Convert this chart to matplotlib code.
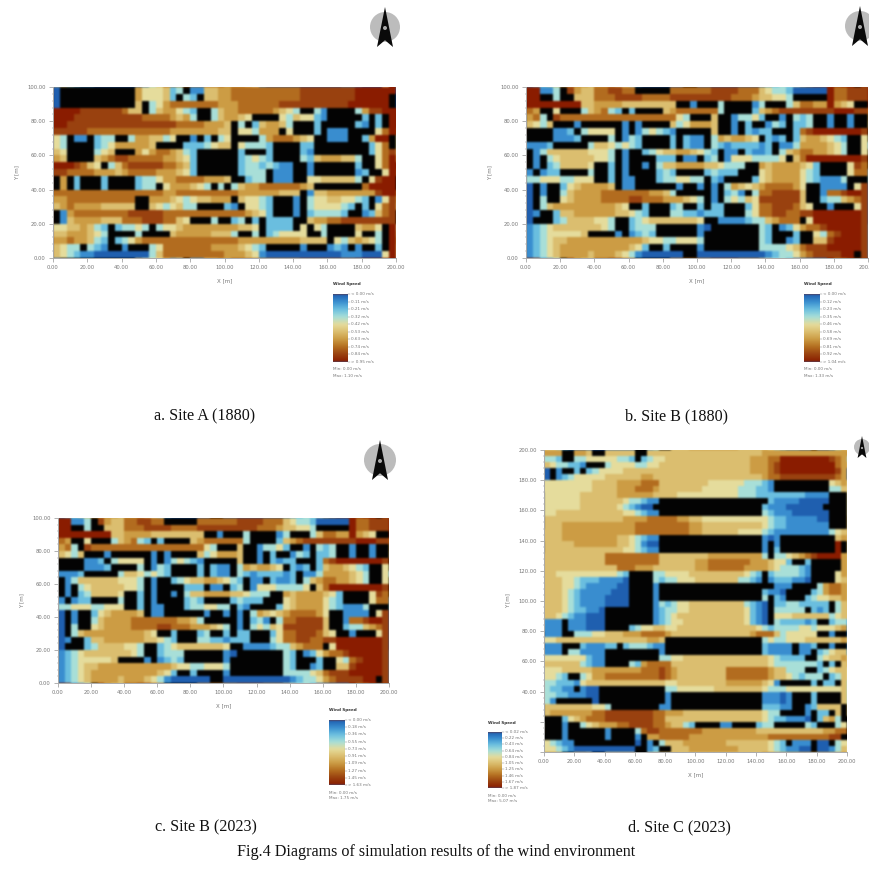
import numpy as np
import matplotlib
matplotlib.use("Agg")
import matplotlib.pyplot as plt
from matplotlib.colors import LinearSegmentedColormap
from matplotlib.patches import Circle, Polygon
from matplotlib.ticker import MultipleLocator

# cell values: 0 = slowest (blue) ... 9 = fastest (dark red), # = building (black)
site_a_1880 = [
    "0######### ##6444523# 1155667777 7777778888 8888999999",
    "0######### ##644452#3 2#55667777 7777778888 888899999#",
    "0######### ##5#346777 7777666777 7778888888 888999999#",
    "9999888888 755#356643 2##3566777 776543##31 ####368899",
    "9998888888 8887777656 3##356654# ###4354421 #####2#2#9",
    "9988888888 8888888877 776665#3#2 56653###2# ####21#2#9",
    "8888877777 7777777666 666655#443 666#4###2# 111####479",
    "43#11#233# #3665534## 1#2#34#### 36777654## 111##2699#",
    "43####2346 66665####2 223455#433 32####22## ######247#",
    "54####345# ##64677653 2######2## #2####21## ######2478",
    "65####5678 8777776654 2######234 32####3256 66553##479",
    "9998754#35 7888887765 2######233 23211##1## ####2##479",
    "8877776665 6777766654 2######233 3#111##1## ####12##49",
    "#6#2###2## ##23346677 776665##23 3#111##445 55553#4899",
    "#6#2###2## ##233#4666 543#3#3566 77777765## #####79999",
    "7777777777 7777776677 7777777666 666555#155 6666666899",
    "6677777777 77##666543 455666#544 32###1#344 554432#148",
    "5676666555 55##543453 3####21#44 32###1#344 4432#2#478",
    "#167777777 7888887777 7777777765 42###1#233 332##12578",
    "#156666555 7778887754 ###3##23#2 #2222##566 7788888888",
    "44556532#2 3343#34456 6666666554 #2222#4#43 ####5664#9",
    "55666543## ##3####566 6665553##3 #234444##3 ####4##3#9",
    "66766532#2 3467777777 7777777666 6666665555 #4356543#9",
    "5433#321## 1###347777 7776666543 2#####1### 121#1##2#9",
    "5432110000 0000357777 7777766654 1000000000 0011100049",
]

site_b_1880 = [
    "99113#8655 778877#### #777777888 8777543320 0000977888",
    "99##3##555 7778888777 7888888888 777655443# ####977888",
    "9999999955 6666555555 55##1###3# ###13###35 77669654##",
    "76##4###35 6732#2#### 567777773# ###2567888 8888899988",
    "673#877777 7777777777 7743###5## 13342##1#3 23##1##1##",
    "5435###1## ####1#1### #5346665## 1#2##132#2 23##1##1##",
    "####112#34 444#1#1343 21#####5## 1#2122###2 7899999998",
    "####1112## ##3#132### #2#211#365 6654#212#2 5665432##4",
    "1112#####3 5543432### #2#211#321 222212#113 6666543##4",
    "#135555554 443#1##234 55665432#1 1#2112#356 7766543##4",
    "#1#3455555 443#1####2 22#11#23#1 4443333 4#5 7999999998",
    "#1#2355554 ##2#1##1#3 5566665543 33##656666 542####487",
    "1#122####3 ##2#1####2 32####2322 2###456666 432####477",
    "3344433444 ##2#11###2 334433#21# ###2456666 4321113###",
    "0#1##24566 665#11#### ##1##1#1#3 6545677776 4##1111#48",
    "0#1##35666 6777777766 53#####1#2 31#3778888 5##1778998",
    "0#3##45666 6777788777 666543#1#3 4354888888 5##2335678",
    "0#35666666 66654##2## #23##2#22# ##24778887 54##1###48",
    "01##255666 66655432## #33221222# ##34778877 8899999998",
    "0###235555 443##23455 555554##11 1123356777 #499999998",
    "1234555555 543##2333# #####10### ####32#124 6778999998",
    "123444445# ###1#1232# #####1#### ####32###2 ##43789998",
    "1234556666 6666666544 334443#### ####32##12 ##55899998",
    "1234566666 6666654 2## 2####1#### ####333345 7888999998",
    "1234566665 6665431000 000##00000 0000012334 67888899#8",
]

# same pattern as site B 1880, the 2023 run only moves the scale
site_b_2023 = list(site_b_1880)

site_c_2023 = [
    "666##665## 55555##555 5555555555 5555556666 6666666666",
    "332##33444 44332#2344 5555555555 5555666779 9999999876",
    "5433221### 3444433445 5555555555 5555666789 9999999976",
    "0#1##2#234 4445555555 5555555555 5555666789 9999999986",
    "0#12344444 5555556655 5555555555 5555556778 8888888876",
    "4444444455 5566667775 5555555444 44433321## #######456",
    "4444444455 5566677765 5555554444 44333221## #######335",
    "4444445555 5566666655 5544444444 4433322222 2221111###",
    "4444445555 555433211# ########## #######211 1100000###",
    "4444445555 554321 00# ########## #######211 1000000###",
    "4455555555 555443211# ########## ######3211 1000000###",
    "5555555555 5556666777 7766554444 4444444322 1111100###",
    "5556666666 6666677777 7777665555 5555554322 1111111###",
    "5556666666 6666677777 7777665555 5544443211 1111111345",
    "5556666666 665543211# ########## ######101# ########56",
    "5555566666 665543100# ########## ######1#1# ########9#",
    "5555555555 555443211# ########## ######1#2# ########9#",
    "5555555555 7777777775 5555555666 6666663#33 4567899996",
    "5555555555 7777777775 5555566777 7777666544 2##2#####6",
    "5555555555 5577766655 5555566777 7776666543 3321#####6",
    "5544444444 4432####33 4444555555 555432#233 3321####46",
    "5554432221 1110####32 3344455555 553321#122 2110####45",
    "5554432111 1100####1# ########## ########11 1####36776",
    "5554321111 1000####1# ########## ######2110 ####236776",
    "5554321111 0000####1# ########## ######3#21 ###2344556",
    "5554321111 0000####13 2344555555 5553210#22 3322222#35",
    "5554322110 ########12 3344555555 5554210#33 333#212#35",
    "5543211000 ########12 3455555555 5554210#44 4555555345",
    "111#111000 ########12 3445555555 5554210#32 22212##233",
    "111#111000 ####234455 4455555555 5555543233 3344344456",
    "111##33344 5556667777 6555555555 5555677753 44444##1##",
    "4455555555 5555555665 ########## ######3433 4445555556",
    "111###2111 22#2333211 ########## ######2111 1#112##1##",
    "111#331111 #########1 ########## ######2111 1#11#23455",
    "4444444211 #########3 3445555555 5555555432 222##34556",
    "5555553211 ####326777 7555555555 5555555433 333332#2#5",
    "4445555566 6666667778 7655555555 7777777655 333##23455",
    "4432##3466 7777777778 7655555555 7777777655 432333#235",
    "3322214555 5555555555 4455555555 66666654 1# ####2#22#5",
    "32211#100# ########## 3344444455 5555554333 4444444445",
    "3322111 00# ########## 1######### ######1110 1###2####5",
    "31######0# ########## 1######### ######1110 1###2####5",
    "5555555544 3########1 1######### ######2221 1##1255 55#",
    "5666666677 8888888877 6665555555 555555433# ###1#22#5#",
    "###2456777 8888888877 5555555555 5555554322 1110#2563#",
    "###1##3456 6677888877 65532####1 1####233## ###32###34",
    "###1###### 1####37887 7777776666 6666655555 5555556677",
    "###1###### 1####1#667 7777666666 6666666777 777777788#",
    "43211##### #####0#1#3 5556666666 5555555432 #111#00#34",
    "4432100000 00000##12# #555666666 6655555432 1100#00135",
]

labels_a = ["< 0.00", "0.11", "0.21", "0.32", "0.42", "0.53", "0.63", "0.74", "0.84", "> 0.95"]
labels_b = ["< 0.00", "0.12", "0.23", "0.35", "0.46", "0.58", "0.69", "0.81", "0.92", "> 1.04"]
labels_b23 = ["< 0.00", "0.18", "0.36", "0.55", "0.73", "0.91", "1.09", "1.27", "1.45", "> 1.63"]
labels_c = ["< 0.02", "0.22", "0.43", "0.64", "0.84", "1.05", "1.25", "1.46", "1.67", "> 1.87"]

W, H = 870, 875
GREY = "#777777"
level_colors = ["#1f5fb0", "#3a8fd0", "#6cc0e0", "#a8dfd8", "#e6dc9c",
                "#dcbf70", "#cc9c44", "#b46e20", "#9a4210", "#8a1c00"]
cmap = LinearSegmentedColormap.from_list("wind", level_colors)
cmap.set_bad("#030303")


def soften(img, dpi):
    # the source is a low res scan, so take the hard cell edges off
    out = img.copy()
    for axis in (0, 1):
        out = (np.roll(out, 2, axis) + 4 * np.roll(out, 1, axis) + 6 * out
               + 4 * np.roll(out, -1, axis) + np.roll(out, -2, axis)) / 16
    return out, 0, 0


def pix_axes(x0, x1, y0, y1):
    return fig.add_axes([x0 / W, 1 - y1 / H, (x1 - x0) / W, (y1 - y0) / H])


def to_grid(rows):
    out = []
    for row in rows:
        row = row.replace(" ", "")
        row = row[:50].ljust(50, row[-1])
        out.append([np.nan if c == "#" else float(c) for c in row])
    return np.array(out)


def panel(rect, rows, ymax, hide_y=()):
    ax = pix_axes(*rect)
    im = ax.imshow(to_grid(rows), cmap=cmap, vmin=0, vmax=9, aspect="auto",
                   extent=[0, 200, 0, ymax], interpolation="nearest")
    im.set_agg_filter(soften)
    ax.set_xticks(np.arange(0, 201, 20))
    ax.set_yticks(np.arange(0, ymax + 1, 20))
    ax.set_xticklabels(["%.2f" % v for v in ax.get_xticks()])
    ax.set_yticklabels(["" if v in hide_y else "%.2f" % v for v in ax.get_yticks()])
    ax.xaxis.set_minor_locator(MultipleLocator(4))
    ax.yaxis.set_minor_locator(MultipleLocator(4))
    ax.tick_params(labelsize=3.8, colors=GREY, length=3, width=0.4, pad=2.2)
    ax.tick_params(which="minor", length=1, width=0.3, colors=GREY)
    ax.spines["top"].set_visible(False)
    ax.spines["right"].set_visible(False)
    for s in ("left", "bottom"):
        ax.spines[s].set_linewidth(0.7)
        ax.spines[s].set_color("#aaaaaa")
    ax.set_xlabel("X [m]", fontsize=4, color=GREY, labelpad=6)
    ax.set_ylabel("Y [m]", fontsize=4, color=GREY, labelpad=6)
    return ax


def legend(x0, x1, y0, y1, labels, max_txt, title_y, min_y, max_y):
    ax = pix_axes(x0, x1, y0, y1)
    im = ax.imshow(np.linspace(0, 1, 128)[:, None], cmap=cmap, aspect="auto")
    im.set_agg_filter(soften)
    ax.axis("off")
    over.text(x0, title_y, "Wind Speed", fontsize=3.0, weight="bold", color="#333333", va="center")
    for lab, y in zip(labels, np.linspace(y0, y1, len(labels))):
        over.plot([x1, x1 + 2], [y, y], color=GREY, lw=0.3)
        over.text(x1 + 3.5, y, lab + " m/s", fontsize=3.0, color=GREY, va="center")
    over.text(x0, min_y, "Min: 0.00 m/s", fontsize=3.0, color=GREY, va="center")
    over.text(x0, max_y, "Max: " + max_txt + " m/s", fontsize=3.0, color=GREY, va="center")


def north(cx, cy, r, h):
    over.add_patch(Circle((cx, cy), r, fc="#bcbcbc", ec="none"))
    hw = h * 0.2
    over.add_patch(Polygon([(cx, cy - h / 2), (cx + hw, cy + h / 2), (cx, cy + h * 0.33),
                            (cx - hw, cy + h / 2)], fc="#0a0a0a", ec="none"))
    over.add_patch(Circle((cx, cy + 1), h * 0.05, fc="#aaaaaa", ec="none"))


fig = plt.figure(figsize=(W / 100, H / 100), dpi=100)
over = fig.add_axes([0, 0, 1, 1], zorder=5)
over.set_xlim(0, W)
over.set_ylim(H, 0)
over.axis("off")

panel((53, 396, 87, 258), site_a_1880, 100)
panel((526, 868, 87, 258), site_b_1880, 100)
panel((58, 389, 518, 683), site_b_2023, 100)
panel((544, 847, 450, 752), site_c_2023, 200, hide_y=(0, 20))

legend(333, 348, 294, 362, labels_a, "1.10", 284, 369, 376)
legend(804, 820, 294, 362, labels_b, "1.33", 284, 369, 376)
legend(329, 345, 720, 785, labels_b23, "1.75", 710, 793, 798)
legend(488, 502, 732, 788, labels_c, "5.07", 723, 796, 801)

north(385, 27, 15, 40)
north(860, 26, 15, 40)
north(380, 460, 16, 40)
north(862, 447, 8, 22)

serif = "Liberation Serif"
for x, y, txt in [(205, 416, "a. Site A (1880)"), (677, 416, "b. Site B (1880)"),
                  (206, 827, "c. Site B (2023)"), (679, 827, "d. Site C (2023)"),
                  (436, 852, "Fig.4 Diagrams of simulation results of the wind environment")]:
    over.text(x, y, txt, family=serif, fontsize=11.6, color="#111111", ha="center", va="center")

fig.savefig("out.png", dpi=100)
